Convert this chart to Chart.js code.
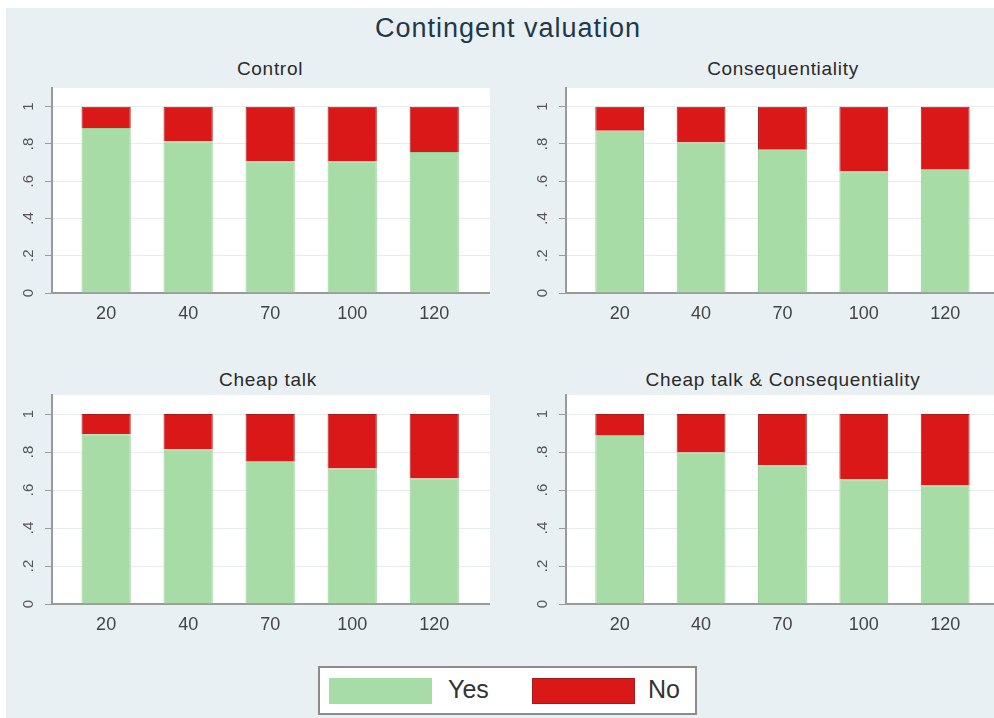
<!DOCTYPE html>
<html>
<head>
<meta charset="utf-8">
<script src="https://cdn.jsdelivr.net/npm/chart.js@4.4.1/dist/chart.umd.min.js"></script>
<style>
  html, body { margin: 0; padding: 0; }
  body {
    width: 994px; height: 718px; position: relative; overflow: hidden;
    background: #fff; font-family: "Liberation Sans", Arial, sans-serif;
  }
  #frame { position: absolute; left: 6px; top: 8px; right: 0; bottom: 0; background: #e9f0f3; }
  .title { position: absolute; text-align: center; white-space: nowrap; }
  #main-title { left: 258px; width: 500px; top: 13px; font-size: 27px; letter-spacing: 1px; color: #22384a; }
  .sub { font-size: 19px; letter-spacing: 0.7px; color: #2a2a2a; width: 400px; }
  canvas { position: absolute; }
  #legend {
    position: absolute; left: 318px; top: 666px; width: 375px; height: 45px;
    background: #fff; border: 2px solid #8c8c8c;
  }
  .swatch { position: absolute; top: 10px; width: 103px; height: 26px; }
  .lab { position: absolute; top: 7px; font-size: 25px; color: #333; }
</style>
</head>
<body>
<div id="frame"></div>
<div id="main-title" class="title">Contingent valuation</div>
<div class="title sub" style="left:70px; top:58px;">Control</div>
<div class="title sub" style="left:583px; top:58px;">Consequentiality</div>
<div class="title sub" style="left:68px; top:369px;">Cheap talk</div>
<div class="title sub" style="left:583px; top:369px;">Cheap talk &amp; Consequentiality</div>

<canvas id="chart-control" width="482" height="261" style="left:8px; top:69px;"></canvas>
<canvas id="chart-conseq" width="474" height="261" style="left:520px; top:69px;"></canvas>
<canvas id="chart-cheap" width="482" height="265" style="left:8px; top:376px;"></canvas>
<canvas id="chart-both" width="474" height="265" style="left:520px; top:376px;"></canvas>

<div id="legend">
  <div class="swatch" style="left:9px; background:#a8dca6;"></div>
  <div class="lab" style="left:128px;">Yes</div>
  <div class="swatch" style="left:212px; background:#db1818; box-shadow: inset 0 0 0 1px #a31b1b;"></div>
  <div class="lab" style="left:328px;">No</div>
</div>

<script>
// bid amounts (x categories)
const bids = ['20', '40', '70', '100', '120'];
const yTicks = [0, 0.2, 0.4, 0.6, 0.8, 1];
const yTickLabels = ['0', '.2', '.4', '.6', '.8', '1'];

// share answering Yes / No
const controlYes = [0.885, 0.814, 0.707, 0.706, 0.757];
const controlNo  = [0.115, 0.186, 0.293, 0.294, 0.243];
const conseqYes  = [0.871, 0.807, 0.768, 0.652, 0.665];
const conseqNo   = [0.129, 0.193, 0.232, 0.348, 0.335];
const cheapYes   = [0.893, 0.815, 0.753, 0.713, 0.660];
const cheapNo    = [0.107, 0.185, 0.247, 0.287, 0.340];
const bothYes    = [0.889, 0.797, 0.730, 0.656, 0.624];
const bothNo     = [0.111, 0.203, 0.270, 0.344, 0.376];

const GREEN = '#a8dca6';
const RED = '#db1818';
const AXIS = '#9a9a9a';

// white plot region, like the Stata scheme
const plotBackground = {
    id: 'plotBackground',
    beforeDraw(chart) {
        const { ctx, chartArea: a } = chart;
        ctx.save();
        ctx.fillStyle = '#ffffff';
        ctx.fillRect(a.left, a.top, a.right - a.left, a.bottom - a.top);
        ctx.restore();
    },
};

function makePanel(id, yes, no, axisWidth, xMax) {
    const ctx = document.getElementById(id);
    const toPoints = arr => arr.map((v, i) => ({ x: i, y: v }));

    return new Chart(ctx, {
        type: 'bar',
        data: {
            datasets: [
                {
                    label: 'Yes',
                    data: toPoints(yes),
                    backgroundColor: GREEN,
                    borderColor: '#98cf96',
                    borderWidth: 1,
                },
                {
                    label: 'No',
                    data: toPoints(no),
                    backgroundColor: RED,
                    borderColor: '#a71c1c',
                    borderWidth: 1,
                },
            ],
        },
        options: {
            responsive: false,
            devicePixelRatio: 1,
            animation: false,
            categoryPercentage: 1,
            barPercentage: 0.6,
            layout: { padding: 0 },
            plugins: {
                legend: { display: false },
                tooltip: { enabled: false },
            },
            scales: {
                x: {
                    type: 'linear',
                    stacked: true,
                    offset: false,
                    min: -0.66,
                    max: xMax,
                    afterBuildTicks: s => { s.ticks = bids.map((_, i) => ({ value: i })); },
                    afterFit: s => { s.height = 37; },
                    grid: { display: false, drawTicks: false, offset: false },
                    border: { color: AXIS, width: 2 },
                    ticks: {
                        padding: 10,
                        color: '#444',
                        font: { family: 'Liberation Sans', size: 18 },
                        callback: v => bids[v],
                    },
                },
                y: {
                    stacked: true,
                    min: 0,
                    max: 1.1,
                    afterBuildTicks: s => { s.ticks = yTicks.map(v => ({ value: v })); },
                    afterFit: s => { s.width = axisWidth; },
                    grid: { color: '#e6ecee', tickColor: AXIS, tickLength: 7, lineWidth: 1 },
                    border: { color: AXIS, width: 2 },
                    ticks: {
                        padding: 10,
                        minRotation: 90,
                        maxRotation: 90,
                        crossAlign: 'center',
                        color: '#555',
                        font: { family: 'Liberation Sans', size: 15 },
                        callback: (v, i) => yTickLabels[i],
                    },
                },
            },
        },
        plugins: [plotBackground],
    });
}

makePanel('chart-control', controlYes, controlNo, 44, 4.68);
makePanel('chart-conseq', conseqYes, conseqNo, 46, 4.6);
makePanel('chart-cheap', cheapYes, cheapNo, 44, 4.68);
makePanel('chart-both', bothYes, bothNo, 46, 4.6);
</script>
</body>
</html>
